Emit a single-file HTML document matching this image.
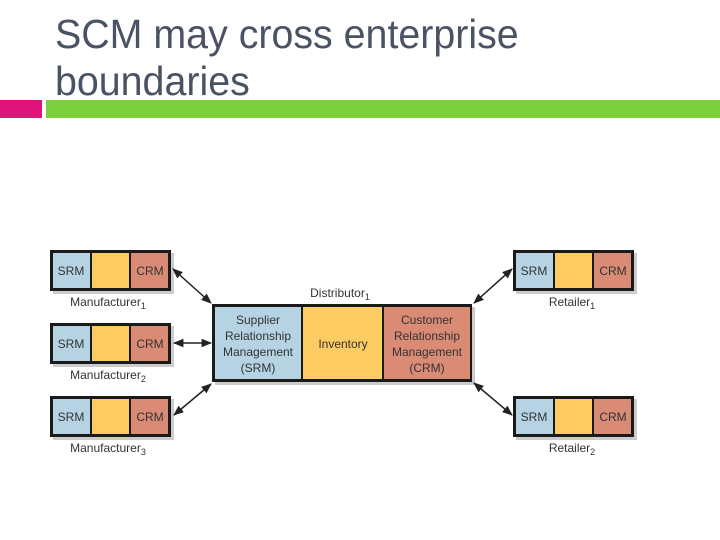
<!DOCTYPE html>
<html><head><style>
body{margin:0;width:720px;height:540px;background:#fff;position:relative;overflow:hidden;font-family:"Liberation Sans",sans-serif}
.t{position:absolute;left:55px;top:11px;font-size:41px;line-height:47px;color:#4a5363;transform:scaleX(0.96);transform-origin:0 0;white-space:nowrap}
</style></head><body>
<div class="t">SCM may cross enterprise<br>boundaries</div>
<div style="position:absolute;left:0;top:100px;width:42px;height:18px;background:#e0137a"></div>
<div style="position:absolute;left:46px;top:100px;width:674px;height:18px;background:#7ecf3c"></div>
<svg width="720" height="540" style="position:absolute;left:0;top:0" font-family="Liberation Sans, sans-serif">
<defs><marker id="a" viewBox="0 0 10 10" refX="9" refY="5" markerWidth="7" markerHeight="7" orient="auto-start-reverse"><path d="M0,1 L10,5 L0,9 z" fill="#222"/></marker></defs>
<g font-size="12" fill="#333" text-anchor="middle">
<g transform="translate(50,250)"><rect x="3" y="3" width="121" height="41" fill="#ccc"/><rect width="121" height="41" fill="#1a1a1a"/><rect x="3" y="3" width="37" height="35" fill="#b5d3e3"/><rect x="42" y="3" width="37" height="35" fill="#fccb62"/><rect x="81" y="3" width="37" height="35" fill="#d98b75"/><text x="21" y="25">SRM</text><text x="100" y="25">CRM</text></g>
<g transform="translate(50,323)"><rect x="3" y="3" width="121" height="41" fill="#ccc"/><rect width="121" height="41" fill="#1a1a1a"/><rect x="3" y="3" width="37" height="35" fill="#b5d3e3"/><rect x="42" y="3" width="37" height="35" fill="#fccb62"/><rect x="81" y="3" width="37" height="35" fill="#d98b75"/><text x="21" y="25">SRM</text><text x="100" y="25">CRM</text></g>
<g transform="translate(50,396)"><rect x="3" y="3" width="121" height="41" fill="#ccc"/><rect width="121" height="41" fill="#1a1a1a"/><rect x="3" y="3" width="37" height="35" fill="#b5d3e3"/><rect x="42" y="3" width="37" height="35" fill="#fccb62"/><rect x="81" y="3" width="37" height="35" fill="#d98b75"/><text x="21" y="25">SRM</text><text x="100" y="25">CRM</text></g>
<g transform="translate(513,250)"><rect x="3" y="3" width="121" height="41" fill="#ccc"/><rect width="121" height="41" fill="#1a1a1a"/><rect x="3" y="3" width="37" height="35" fill="#b5d3e3"/><rect x="42" y="3" width="37" height="35" fill="#fccb62"/><rect x="81" y="3" width="37" height="35" fill="#d98b75"/><text x="21" y="25">SRM</text><text x="100" y="25">CRM</text></g>
<g transform="translate(513,396)"><rect x="3" y="3" width="121" height="41" fill="#ccc"/><rect width="121" height="41" fill="#1a1a1a"/><rect x="3" y="3" width="37" height="35" fill="#b5d3e3"/><rect x="42" y="3" width="37" height="35" fill="#fccb62"/><rect x="81" y="3" width="37" height="35" fill="#d98b75"/><text x="21" y="25">SRM</text><text x="100" y="25">CRM</text></g>
<g transform="translate(212,304)"><rect x="3" y="3" width="260" height="78" fill="#ccc"/><rect width="260" height="78" fill="#1a1a1a"/><rect x="3" y="3" width="86" height="72" fill="#b5d3e3"/><rect x="91" y="3" width="79" height="72" fill="#fccb62"/><rect x="172" y="3" width="86" height="72" fill="#d98b75"/>
<text x="46" y="20">Supplier</text><text x="46" y="36">Relationship</text><text x="46" y="52">Management</text><text x="46" y="68">(SRM)</text>
<text x="131" y="44">Inventory</text>
<text x="215" y="20">Customer</text><text x="215" y="36">Relationship</text><text x="215" y="52">Management</text><text x="215" y="68">(CRM)</text></g>
<text x="108" y="306">Manufacturer<tspan font-size="9" dy="3">1</tspan></text>
<text x="108" y="379">Manufacturer<tspan font-size="9" dy="3">2</tspan></text>
<text x="108" y="452">Manufacturer<tspan font-size="9" dy="3">3</tspan></text>
<text x="340" y="297">Distributor<tspan font-size="9" dy="3">1</tspan></text>
<text x="572" y="306">Retailer<tspan font-size="9" dy="3">1</tspan></text>
<text x="572" y="452">Retailer<tspan font-size="9" dy="3">2</tspan></text>
</g>
<g stroke="#222" stroke-width="1.5" marker-start="url(#a)" marker-end="url(#a)">
<line x1="173" y1="269" x2="211" y2="303"/>
<line x1="174" y1="343" x2="211" y2="343"/>
<line x1="174" y1="415" x2="211" y2="384"/>
<line x1="512" y1="269" x2="474" y2="303"/>
<line x1="512" y1="415" x2="474" y2="383"/>
</g>
</svg>
</body></html>
